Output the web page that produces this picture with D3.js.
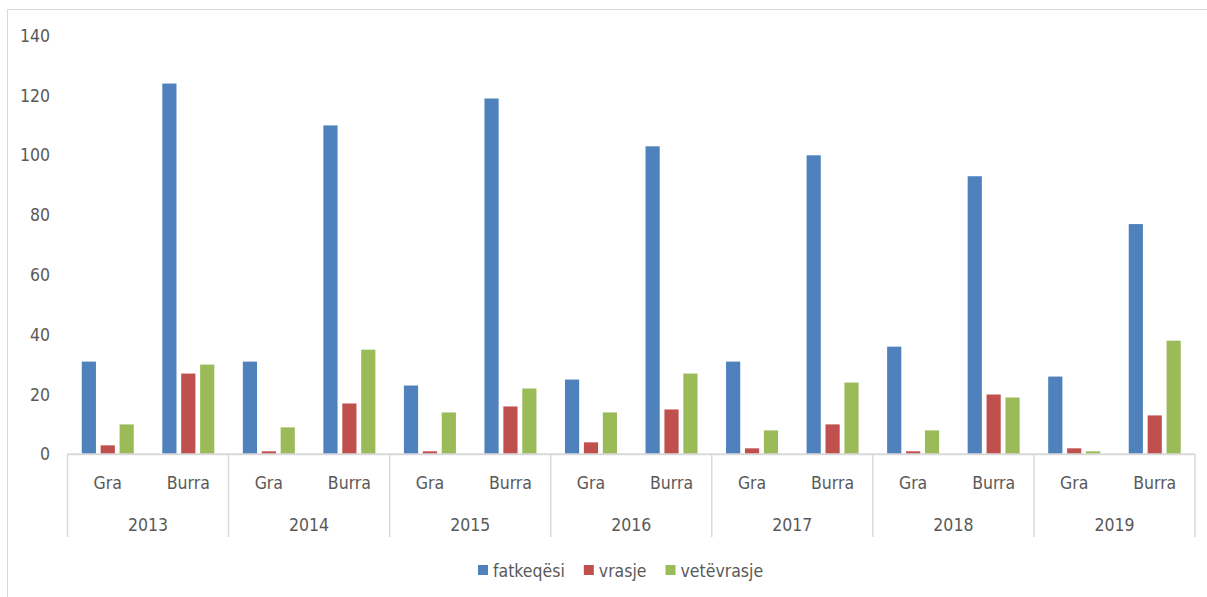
<html>

<head>
	<meta charset="utf-8">
	<script src="https://d3js.org/d3.v7.min.js"></script>
	<style>
		body { margin: 0; background: #fff; }
		text { font-family: "DejaVu Sans Condensed", "Liberation Sans", sans-serif; fill: #595959; }
	</style>
</head>

<body>
	<svg width="1207" height="597"></svg>
	<script>
		// values
		var years = ["2013", "2014", "2015", "2016", "2017", "2018", "2019"];
		var genders = ["Gra", "Burra"];
		var seriesNames = ["fatkeqësi", "vrasje", "vetëvrasje"];
		var fatkeqesi = [31, 124, 31, 110, 23, 119, 25, 103, 31, 100, 36, 93, 26, 77];
		var vrasje = [3, 27, 1, 17, 1, 16, 4, 15, 2, 10, 1, 20, 2, 13];
		var vetevrasje = [10, 30, 9, 35, 14, 22, 14, 27, 8, 24, 8, 19, 1, 38];
		var yTicks = [0, 20, 40, 60, 80, 100, 120, 140];
		var colors = ["#4F81BD", "#C0504D", "#9BBB59"];

		var values = [fatkeqesi, vrasje, vetevrasje];
		var data = [];
		years.forEach(function (yr, i) {
			genders.forEach(function (g, j) {
				var k = i * 2 + j;
				data.push({ key: yr + "|" + g, year: yr, gender: g, vals: values.map(function (v) { return v[k]; }) });
			});
		});

		var svg = d3.select("svg");
		var plotLeft = 67.5, plotRight = 1195, plotTop = 35.7, plotBottom = 454.3;
		var fs = 17.5;

		// outer chart border
		svg.append("rect")
			.attr("x", 7.5).attr("y", 9.5)
			.attr("width", 1210).attr("height", 600)
			.attr("fill", "none").attr("stroke", "#d9d9d9");

		var x0 = d3.scaleBand()
			.domain(data.map(function (d) { return d.key; }))
			.range([plotLeft, plotRight])
			.padding(0);

		var xYear = d3.scaleBand()
			.domain(years)
			.range([plotLeft, plotRight])
			.padding(0);

		var bw0 = x0.bandwidth();
		var x1 = d3.scaleBand()
			.domain(seriesNames)
			.range([(bw0 - 52) / 2, (bw0 + 52) / 2])
			.paddingInner(0.25);

		var y = d3.scaleLinear()
			.domain([0, 140])
			.range([plotBottom, plotTop]);

		var z = d3.scaleOrdinal().domain(seriesNames).range(colors);

		// bars
		svg.append("g")
			.selectAll("g")
			.data(data)
			.enter().append("g")
			.attr("transform", function (d) { return "translate(" + x0(d.key) + ",0)"; })
			.selectAll("rect")
			.data(function (d) { return d.vals.map(function (v, i) { return { name: seriesNames[i], value: v }; }); })
			.enter().append("rect")
			.attr("x", function (d) { return x1(d.name); })
			.attr("width", x1.bandwidth())
			.attr("y", function (d) { return y(d.value); })
			.attr("height", function (d) { return y(0) - y(d.value); })
			.attr("fill", function (d) { return z(d.name); });

		// y axis labels (no line)
		var yAxis = svg.append("g")
			.attr("transform", "translate(50,0)")
			.call(d3.axisLeft(y).tickValues(yTicks).tickSize(0).tickPadding(0));
		yAxis.select(".domain").remove();
		yAxis.attr("font-family", null).attr("font-size", null);
		yAxis.selectAll("text")
			.attr("font-size", fs);

		// category axis line
		svg.append("line")
			.attr("x1", plotLeft).attr("x2", plotRight)
			.attr("y1", y(0)).attr("y2", y(0))
			.attr("stroke", "#d9d9d9").attr("stroke-width", 2);

		// year separators
		svg.append("g")
			.selectAll("line")
			.data(years.concat(["end"]))
			.enter().append("line")
			.attr("x1", function (d) { return d === "end" ? plotRight : xYear(d); })
			.attr("x2", function (d) { return d === "end" ? plotRight : xYear(d); })
			.attr("y1", y(0))
			.attr("y2", 537)
			.attr("stroke", "#d9d9d9").attr("stroke-width", 1.5);

		// gender labels
		svg.append("g")
			.selectAll("text")
			.data(data)
			.enter().append("text")
			.attr("x", function (d) { return x0(d.key) + bw0 / 2; })
			.attr("y", 483)
			.attr("dy", "0.35em")
			.attr("text-anchor", "middle")
			.attr("font-size", fs)
			.text(function (d) { return d.gender; });

		// year labels
		svg.append("g")
			.selectAll("text")
			.data(years)
			.enter().append("text")
			.attr("x", function (d) { return xYear(d) + xYear.bandwidth() / 2; })
			.attr("y", 525)
			.attr("dy", "0.35em")
			.attr("text-anchor", "middle")
			.attr("font-size", fs)
			.text(function (d) { return d; });

		// legend
		var lg = svg.append("g");
		var lx = 478;
		seriesNames.forEach(function (name, i) {
			lg.append("rect")
				.attr("x", lx).attr("y", 565)
				.attr("width", 10).attr("height", 10)
				.attr("fill", colors[i]);
			var t = lg.append("text")
				.attr("x", lx + 15).attr("y", 570.5)
				.attr("dy", "0.35em")
				.attr("font-size", fs)
				.text(name);
			lx = lx + 15 + t.node().getComputedTextLength() + 19;
		});
	</script>

</body>

</html>
